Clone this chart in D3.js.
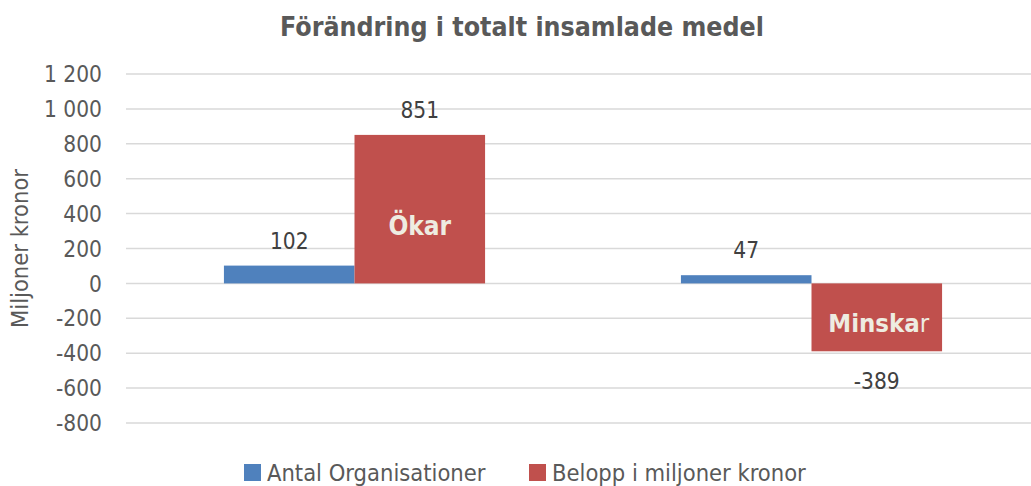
<!DOCTYPE html>
<html>
<head>
<meta charset="utf-8">
<script src="https://cdn.jsdelivr.net/npm/d3@7"></script>
<style>
  body { margin: 0; background: #fff; }
  text { font-family: "DejaVu Sans Condensed", "DejaVu Sans", sans-serif; }
</style>
</head>
<body>
<script>
var width = 1031;
var height = 486;

// data
var categories = ["Ökar", "Minskar"];
var seriesNames = ["Antal Organisationer", "Belopp i miljoner kronor"];
var antal = [102, 47];
var belopp = [851, -389];
var tickValues = [-800, -600, -400, -200, 0, 200, 400, 600, 800, 1000, 1200];
var colors = ["#4f81bd", "#c0504d"];

var plot = { left: 126, right: 1040, top: 74, bottom: 423 };

var svg = d3.select("body").append("svg")
  .attr("width", width).attr("height", height);

var y = d3.scaleLinear().domain([-800, 1200]).range([plot.bottom, plot.top]);
var x0 = d3.scaleBand().domain(categories).range([plot.left, plot.right]).padding(0);
var x1 = d3.scaleBand().domain(seriesNames).range([0, x0.bandwidth()])
  .paddingInner(0).paddingOuter(0.75);

// gridlines
svg.append("g").selectAll("line").data(tickValues).enter().append("line")
  .attr("x1", plot.left).attr("x2", width)
  .attr("y1", function (d) { return y(d); }).attr("y2", function (d) { return y(d); })
  .style("stroke", "#d9d9d9").style("stroke-width", 1.5);

// y axis labels (space as thousands separator, plain hyphen for minus)
function fmt(d) {
  var s = String(Math.abs(d)).replace(/\B(?=(\d{3})+(?!\d))/g, " ");
  return (d < 0 ? "-" : "") + s;
}
svg.append("g").selectAll("text").data(tickValues).enter().append("text")
  .attr("x", 102).attr("y", function (d) { return y(d); })
  .attr("dy", "0.36em").attr("text-anchor", "end")
  .style("font-size", "22.5px").style("fill", "#595959")
  .text(fmt);

// title
svg.append("text").attr("x", 522).attr("y", 36).attr("text-anchor", "middle")
  .style("font-size", "26.5px").style("font-weight", "bold").style("fill", "#595959")
  .text("Förändring i totalt insamlade medel");

// y axis title
svg.append("text").attr("transform", "translate(28,248.5) rotate(-90)")
  .attr("text-anchor", "middle").style("font-size", "23.5px").style("fill", "#595959")
  .text("Miljoner kronor");

// bars
var rows = categories.map(function (c, i) {
  return { cat: c, values: [{ s: seriesNames[0], v: antal[i] }, { s: seriesNames[1], v: belopp[i] }] };
});

var groups = svg.append("g").selectAll("g").data(rows).enter().append("g")
  .attr("transform", function (d) { return "translate(" + x0(d.cat) + ",0)"; });

groups.selectAll("rect").data(function (d) { return d.values; }).enter().append("rect")
  .attr("x", function (d) { return x1(d.s); })
  .attr("width", x1.bandwidth())
  .attr("y", function (d) { return y(Math.max(0, d.v)); })
  .attr("height", function (d) { return Math.abs(y(d.v) - y(0)); })
  .style("fill", function (d, i) { return colors[i]; });

// data labels
groups.selectAll("text.val").data(function (d) { return d.values; }).enter().append("text")
  .attr("class", "val")
  .attr("x", function (d) { return x1(d.s) + x1.bandwidth() / 2; })
  .attr("y", function (d) { return d.v >= 0 ? y(d.v) - 17 : y(d.v) + 38; })
  .attr("text-anchor", "middle")
  .style("font-size", "22.5px").style("fill", "#404040")
  .text(function (d) { return fmt(d.v); });

// category labels inside red bars
svg.append("text")
  .attr("x", x0(categories[0]) + x1(seriesNames[1]) + x1.bandwidth() / 2)
  .attr("y", 235).attr("text-anchor", "middle")
  .style("font-size", "26px").style("font-weight", "bold").style("fill", "#eeece1")
  .text(categories[0]);

var minskar = svg.append("text")
  .attr("x", x0(categories[1]) + x1(seriesNames[1]) + x1.bandwidth() / 2 + 2)
  .attr("y", 332).attr("text-anchor", "middle")
  .style("font-size", "25.5px").style("fill", "#eeece1");
minskar.append("tspan").style("font-weight", "bold").text(categories[1].slice(0, -1));
minskar.append("tspan").text(categories[1].slice(-1));

// legend
var legendX = [244, 529];
var legend = svg.append("g").selectAll("g").data(seriesNames).enter().append("g")
  .attr("transform", function (d, i) { return "translate(" + legendX[i] + ",464)"; });
legend.append("rect").attr("width", 17).attr("height", 17)
  .style("fill", function (d, i) { return colors[i]; });
legend.append("text").attr("x", 23).attr("y", 9).attr("dy", "0.36em")
  .style("font-size", "23.5px").style("fill", "#595959")
  .text(function (d) { return d; });
</script>
</body>
</html>
